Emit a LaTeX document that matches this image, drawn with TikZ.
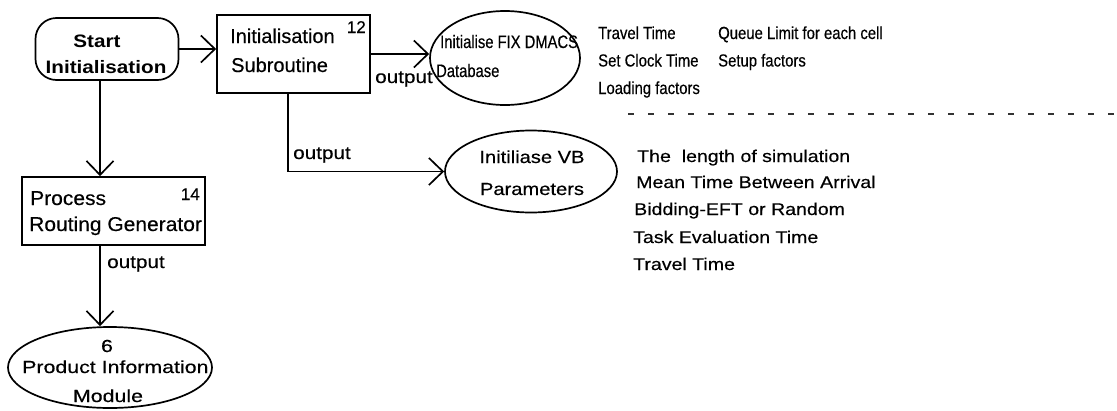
\documentclass[tikz,border=0pt]{standalone}
\usepackage{fontspec}
\setmainfont{Liberation Sans}[FakeBold=0.4]
% width variants of the same face
\newfontfamily\fnarrowA[FakeStretch=0.82,FakeBold=0.4]{Liberation Sans}
\newfontfamily\fnarrowB[FakeStretch=0.85,FakeBold=0.4]{Liberation Sans}
\newfontfamily\fwideA[FakeStretch=1.15,FakeBold=0.4]{Liberation Sans}
\newfontfamily\fwideB[FakeStretch=1.05,FakeBold=0.4]{Liberation Sans}
\newfontfamily\fwideC[FakeStretch=1.22,FakeBold=0.4]{Liberation Sans}
\newfontfamily\fwideBold[FakeStretch=1.15]{Liberation Sans Bold}
\usetikzlibrary{arrows.meta,shapes.geometric}

\tikzset{
  frame/.style={draw, line width=1.7pt, inner sep=0pt},
  procbox/.style={frame, rectangle},
  startbox/.style={frame, rectangle, rounded corners=21pt},
  oval/.style={frame, ellipse},
  link/.style={line width=1.7pt},
  flow/.style={link, -{Straight Barb[length=14pt,width=27pt,line width=1.7pt]}},
  txt/.style={inner sep=0pt, anchor=base west},
  ctxt/.style={inner sep=0pt, anchor=base},
  rtxt/.style={inner sep=0pt, anchor=base east},
  boxfont/.style={font=\fontsize{20}{20}\selectfont},
  procfont/.style={font=\fwideB\fontsize{20}{20}\selectfont},
  startfont/.style={font=\fwideBold\fontsize{18}{18}\selectfont},
  dbfont/.style={font=\fnarrowA\fontsize{18}{18}\selectfont},
  listAfont/.style={font=\fnarrowB\fontsize{17.5}{17.5}\selectfont},
  listBfont/.style={font=\fwideA\fontsize{17}{17}\selectfont},
  vbfont/.style={font=\fwideA\fontsize{17.5}{17.5}\selectfont},
  prodfont/.style={font=\fwideC\fontsize{17.5}{17.5}\selectfont},
  outfont/.style={font=\fwideA\fontsize{18}{18}\selectfont},
  numfont/.style={font=\fontsize{17}{17}\selectfont},
}

\begin{document}
\begin{tikzpicture}[x=1pt,y=-1pt]
\useasboundingbox (0,0) rectangle (1117,410);

% --- shapes ---
\node[startbox, minimum width=143pt, minimum height=62pt] (start) at (107,49) {};
\node[procbox, minimum width=153pt, minimum height=78pt] (init) at (293.5,54) {};
\node[procbox, minimum width=183pt, minimum height=68pt] (proc) at (113.5,211) {};
\node[oval, minimum width=150pt, minimum height=94pt] (fix) at (505,58) {};
\node[oval, minimum width=172pt, minimum height=82pt] (vb) at (531,171.5) {};
\node[oval, minimum width=204pt, minimum height=81pt] (prod) at (110,367.5) {};

% --- labels inside the shapes ---
\node[ctxt, startfont] (startA) at (97,47) {Start};
\node[ctxt, startfont] (startB) at (106,73) {Initialisation};

\node[txt, boxfont] (initA) at (230,43) {Initialisation};
\node[txt, boxfont] (initB) at (231,72) {Subroutine};
\node[rtxt, numfont] (initN) at (366,33) {12};

\node[txt, procfont] (procA) at (30,205) {Process};
\node[txt, procfont] (procB) at (29,231) {Routing Generator};
\node[rtxt, numfont] (procN) at (200,200) {14};

\node[txt, dbfont] (fixA) at (440,48) {Initialise FIX DMACS};
\node[txt, dbfont] (fixB) at (436,77) {Database};

\node[ctxt, vbfont] (vbA) at (532,163) {Initiliase VB};
\node[ctxt, vbfont] (vbB) at (532,195) {Parameters};

\node[ctxt, prodfont] (prodN) at (107,352) {6};
\node[txt, prodfont] (prodA) at (22,373) {Product Information};
\node[ctxt, prodfont] (prodB) at (108,402) {Module};

% --- connectors ---
\draw[flow] (start.east) -- (start.east -| init.west);
\draw[flow] (init.east) -- (init.east -| fix.west);
\draw[flow] ([xshift=-5.5pt]init.south) |- (vb.west);
\draw[flow] ([xshift=-7pt]start.south) -- ([xshift=-7pt]start.south |- proc.north);
\draw[flow] ([xshift=-13.5pt]proc.south) -- ([xshift=-13.5pt]proc.south |- prod.north);

\node[txt, outfont] (out1) at (375,83) {output};
\node[txt, outfont] (out2) at (293,159) {output};
\node[txt, outfont] (out3) at (107,268) {output};

% --- database contents ---
\node[txt, listAfont] (dA1) at (598,39) {Travel Time};
\node[txt, listAfont] (dA2) at (598,66.5) {Set Clock Time};
\node[txt, listAfont] (dA3) at (598,94) {Loading factors};
\node[txt, listAfont] (dB1) at (718,39) {Queue Limit for each cell};
\node[txt, listAfont] (dB2) at (718,66.5) {Setup factors};

% separator
\draw[line width=2.2pt, black!80, dash pattern=on 6pt off 14pt] (628,114) -- (1117,114);

% --- parameter list ---
\node[txt, listBfont] (p1) at (637,162) {The\ \ length of simulation};
\node[txt, listBfont] (p2) at (636,188) {Mean Time Between Arrival};
\node[txt, listBfont] (p3) at (634,215) {Bidding-EFT or Random};
\node[txt, listBfont] (p4) at (633,243) {Task Evaluation Time};
\node[txt, listBfont] (p5) at (633,270) {Travel Time};
\end{tikzpicture}
\end{document}
